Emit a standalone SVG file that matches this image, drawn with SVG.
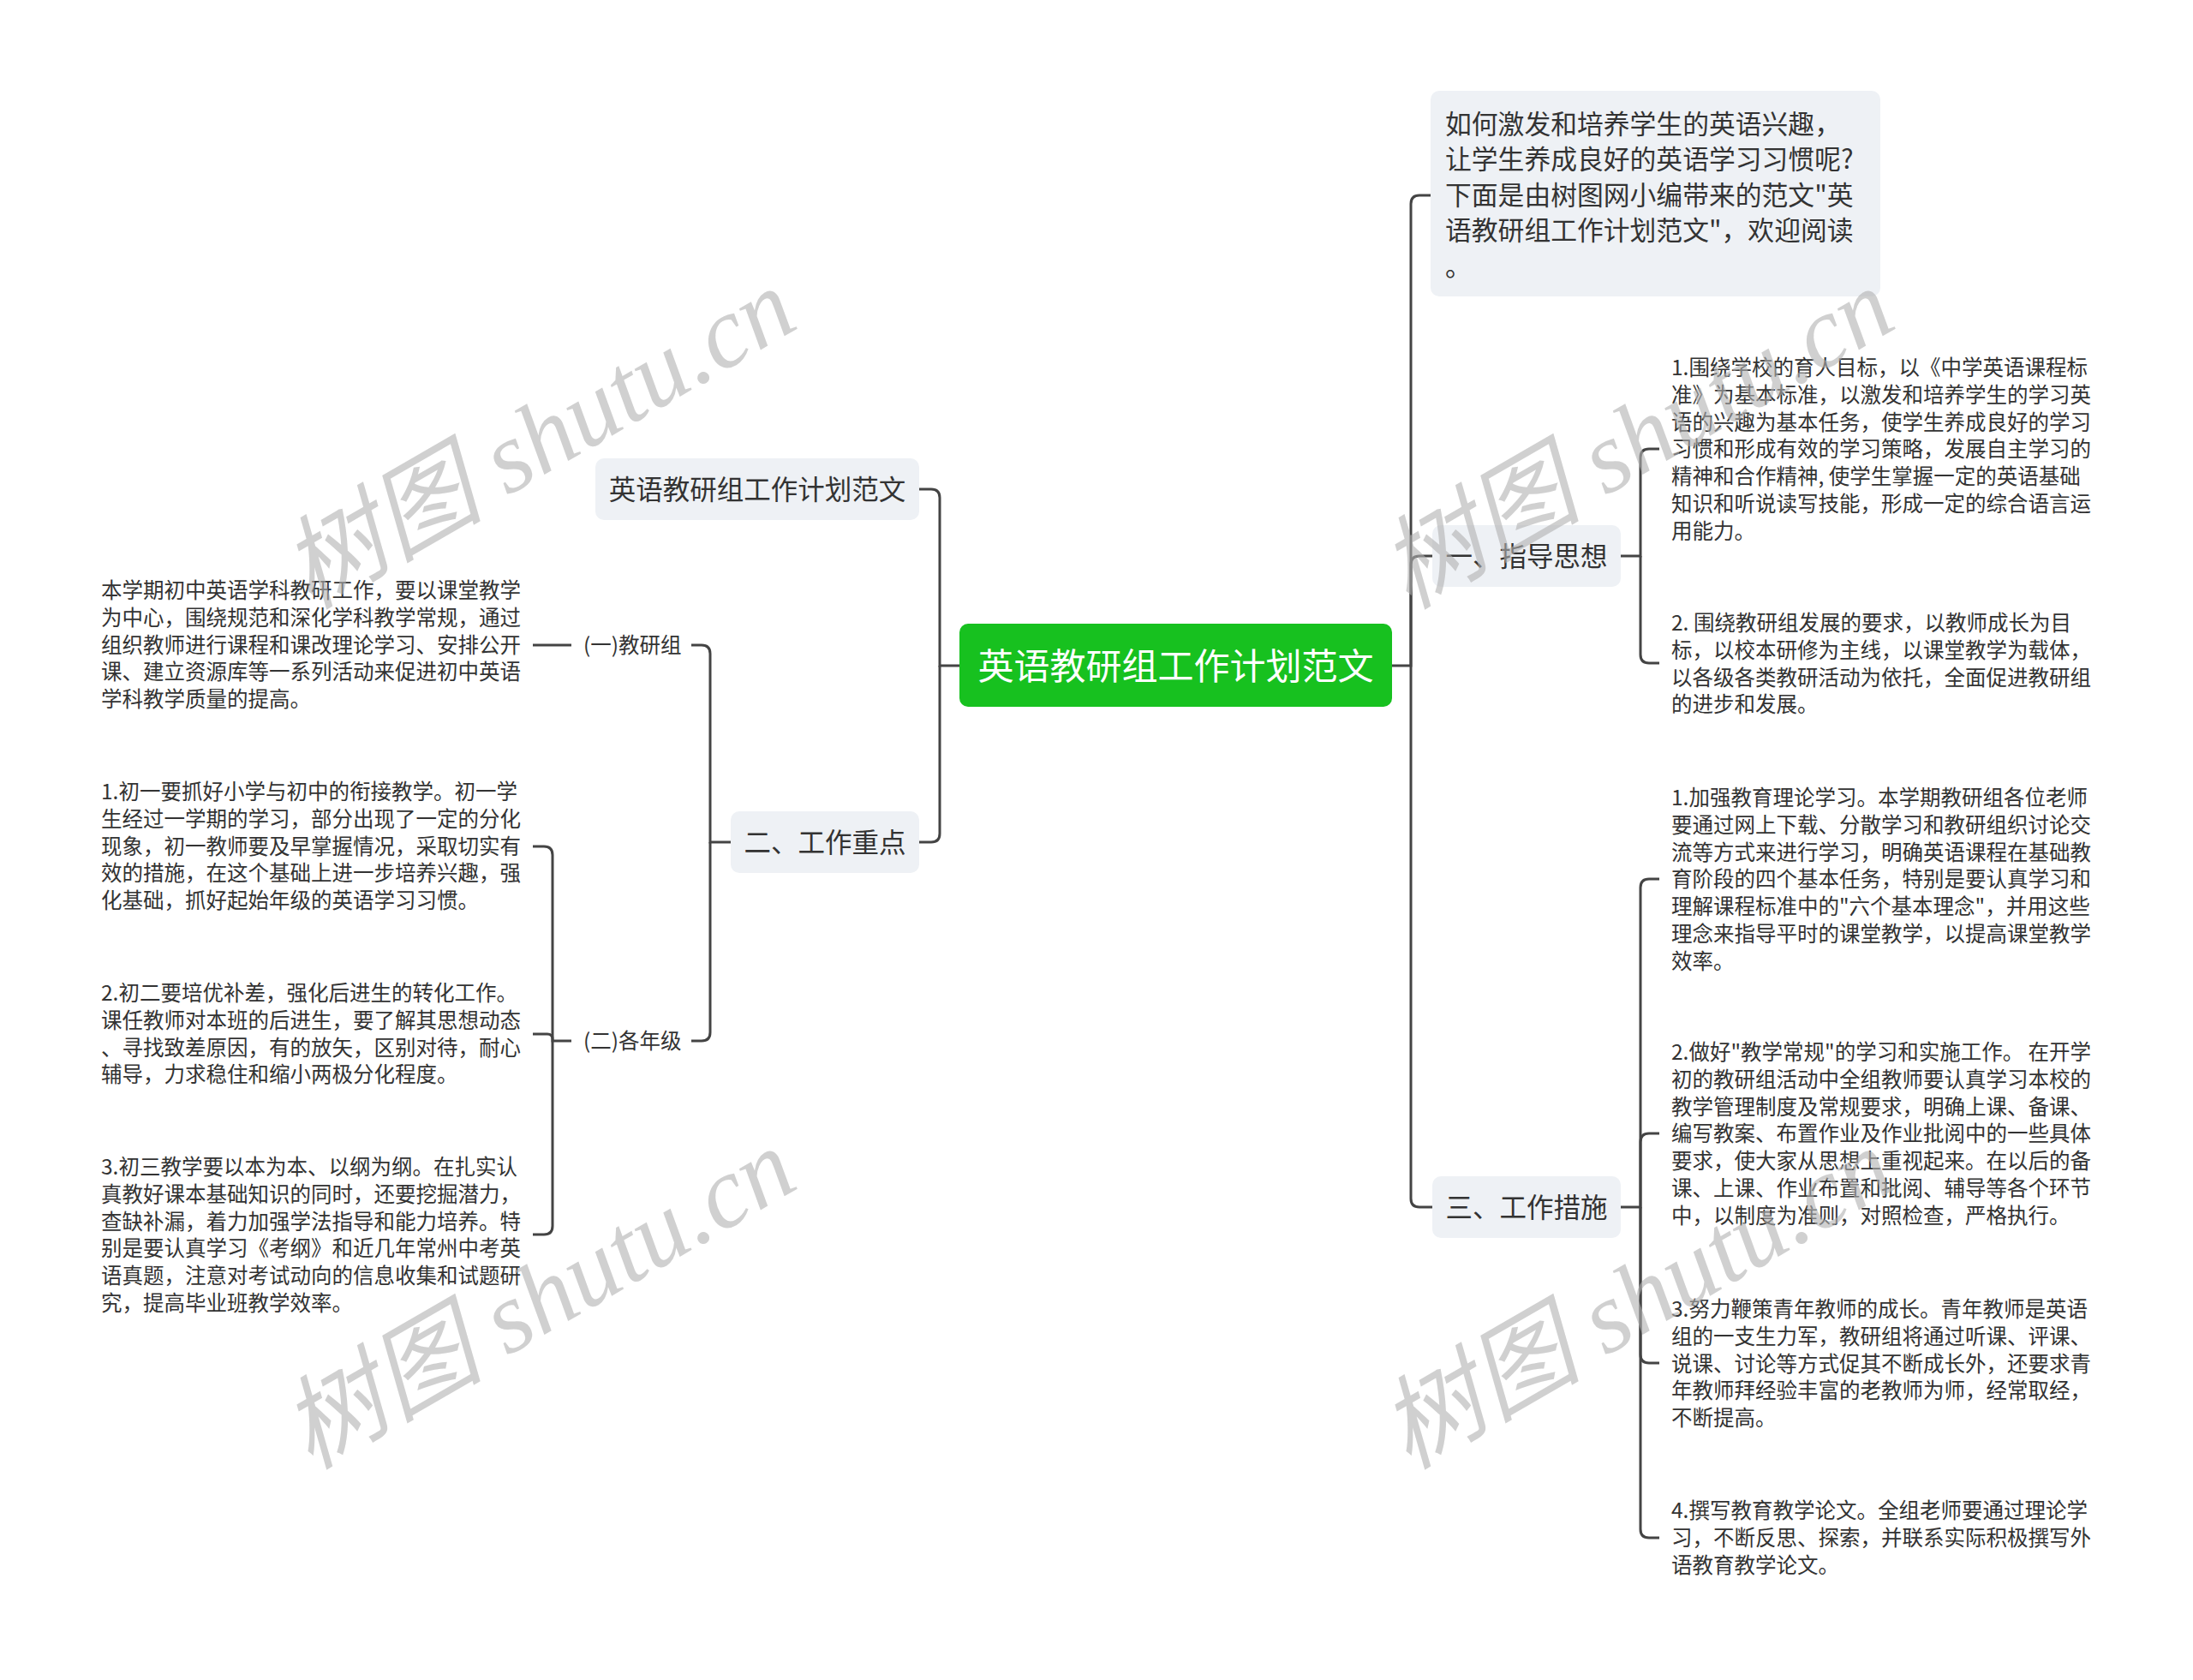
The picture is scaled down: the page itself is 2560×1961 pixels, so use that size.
<svg xmlns="http://www.w3.org/2000/svg" width="2560" height="1961" viewBox="0 0 2560 1961">
<style>
.t{font-family:"Noto Sans CJK SC","Noto Sans",sans-serif;fill:#333}
.s{font-size:24.5px}
.m{font-size:31.5px}
.box{fill:#eef1f5}
.c{fill:none;stroke:#444;stroke-width:3}
.wm{font-family:"Liberation Serif","Noto Sans CJK SC",serif;font-style:italic;font-size:118px;fill:#b0b0b0;fill-opacity:0.6}
</style>
<rect width="2560" height="1961" fill="#fff"/>
<g id="connectors">
<path class="c" d="M1120,777 H1097 V581 Q1097,571 1087,571 H1073"/>
<path class="c" d="M1097,777 V973 Q1097,983 1087,983 H1073"/>
<path class="c" d="M853,983 H829 V763 Q829,753 819,753 H807"/>
<path class="c" d="M829,983 V1205 Q829,1215 819,1215 H807"/>
<path class="c" d="M667,753 H622"/>
<path class="c" d="M667,1215 H645 V998 Q645,988 635,988 H622"/>
<path class="c" d="M645,1215 V1213 Q645,1207 639,1207 H622"/>
<path class="c" d="M645,1215 V1431 Q645,1441 635,1441 H622"/>
<path class="c" d="M1625,777 H1647 V238 Q1647,228 1657,228 H1670"/>
<path class="c" d="M1647,777 V659 Q1647,649 1657,649 H1672"/>
<path class="c" d="M1647,777 V1399 Q1647,1409 1657,1409 H1672"/>
<path class="c" d="M1892,649 H1915 V534 Q1915,524 1925,524 H1937"/>
<path class="c" d="M1915,649 V764 Q1915,774 1925,774 H1937"/>
<path class="c" d="M1892,1409 H1915 V1036 Q1915,1026 1925,1026 H1937"/>
<path class="c" d="M1915,1409 V1333 Q1915,1323 1925,1323 H1937"/>
<path class="c" d="M1915,1409 V1581 Q1915,1591 1925,1591 H1937"/>
<path class="c" d="M1915,1409 V1785 Q1915,1795 1925,1795 H1937"/>
</g>
<g id="root">
<rect x="1120" y="728" width="505" height="97" rx="10" fill="#17c11f"/>
<text x="1372.5" y="793" text-anchor="middle" class="t" style="font-size:42px;fill:#fff">英语教研组工作计划范文</text>
</g>
<g id="intro">
<rect x="1670" y="106" width="525" height="240" rx="10" class="box"/>
<text class="t" style="font-size:30.8px" x="1687" y="155.6"><tspan x="1687">如何激发和培养学生的英语兴趣，</tspan><tspan x="1687" dy="41.6">让学生养成良好的英语学习习惯呢?</tspan><tspan x="1687" dy="41.6">下面是由树图网小编带来的范文"英</tspan><tspan x="1687" dy="41.6">语教研组工作计划范文"，欢迎阅读</tspan><tspan x="1687" dy="41.6">。</tspan></text>
</g>
<g id="n-title-left">
<rect x="695" y="535" width="378" height="72" rx="10" class="box"/>
<text x="884" y="583" text-anchor="middle" class="t m">英语教研组工作计划范文</text>
</g>
<g id="n-zhongdian">
<rect x="853" y="947" width="220" height="72" rx="10" class="box"/>
<text x="963" y="995" text-anchor="middle" class="t m">二、工作重点</text>
</g>
<g id="n-jiaoyanzu">
<text x="681" y="762" class="t s">(一)教研组</text>
</g>
<g id="n-jiaoyanzu-text">
<text class="t s" x="118" y="698.3"><tspan x="118">本学期初中英语学科教研工作，要以课堂教学</tspan><tspan x="118" dy="31.7">为中心，围绕规范和深化学科教学常规，通过</tspan><tspan x="118" dy="31.7">组织教师进行课程和课改理论学习、安排公开</tspan><tspan x="118" dy="31.7">课、建立资源库等一系列活动来促进初中英语</tspan><tspan x="118" dy="31.7">学科教学质量的提高。</tspan></text>
</g>
<g id="n-ge-nianji">
<text x="681" y="1224" class="t s">(二)各年级</text>
</g>
<g id="n-nj1">
<text class="t s" x="118" y="933.3"><tspan x="118">1.初一要抓好小学与初中的衔接教学。初一学</tspan><tspan x="118" dy="31.7">生经过一学期的学习，部分出现了一定的分化</tspan><tspan x="118" dy="31.7">现象，初一教师要及早掌握情况，采取切实有</tspan><tspan x="118" dy="31.7">效的措施，在这个基础上进一步培养兴趣，强</tspan><tspan x="118" dy="31.7">化基础，抓好起始年级的英语学习习惯。</tspan></text>
</g>
<g id="n-nj2">
<text class="t s" x="118" y="1168.3"><tspan x="118">2.初二要培优补差，强化后进生的转化工作。</tspan><tspan x="118" dy="31.7">课任教师对本班的后进生，要了解其思想动态</tspan><tspan x="118" dy="31.7">、寻找致差原因，有的放矢，区别对待，耐心</tspan><tspan x="118" dy="31.7">辅导，力求稳住和缩小两极分化程度。</tspan></text>
</g>
<g id="n-nj3">
<text class="t s" x="118" y="1371.3"><tspan x="118">3.初三教学要以本为本、以纲为纲。在扎实认</tspan><tspan x="118" dy="31.7">真教好课本基础知识的同时，还要挖掘潜力，</tspan><tspan x="118" dy="31.7">查缺补漏，着力加强学法指导和能力培养。特</tspan><tspan x="118" dy="31.7">别是要认真学习《考纲》和近几年常州中考英</tspan><tspan x="118" dy="31.7">语真题，注意对考试动向的信息收集和试题研</tspan><tspan x="118" dy="31.7">究，提高毕业班教学效率。</tspan></text>
</g>
<g id="n-zhidao">
<rect x="1672" y="613" width="220" height="72" rx="10" class="box"/>
<text x="1782" y="661" text-anchor="middle" class="t m">一、指导思想</text>
</g>
<g id="n-zd1">
<text class="t s" x="1951" y="438.3"><tspan x="1951">1.围绕学校的育人目标，以《中学英语课程标</tspan><tspan x="1951" dy="31.7">准》为基本标准，以激发和培养学生的学习英</tspan><tspan x="1951" dy="31.7">语的兴趣为基本任务，使学生养成良好的学习</tspan><tspan x="1951" dy="31.7">习惯和形成有效的学习策略，发展自主学习的</tspan><tspan x="1951" dy="31.7">精神和合作精神, 使学生掌握一定的英语基础</tspan><tspan x="1951" dy="31.7">知识和听说读写技能，形成一定的综合语言运</tspan><tspan x="1951" dy="31.7">用能力。</tspan></text>
</g>
<g id="n-zd2">
<text class="t s" x="1951" y="736.3"><tspan x="1951">2. 围绕教研组发展的要求，以教师成长为目</tspan><tspan x="1951" dy="31.7">标，以校本研修为主线，以课堂教学为载体，</tspan><tspan x="1951" dy="31.7">以各级各类教研活动为依托，全面促进教研组</tspan><tspan x="1951" dy="31.7">的进步和发展。</tspan></text>
</g>
<g id="n-cuoshi">
<rect x="1672" y="1373" width="220" height="72" rx="10" class="box"/>
<text x="1782" y="1421" text-anchor="middle" class="t m">三、工作措施</text>
</g>
<g id="n-cs1">
<text class="t s" x="1951" y="940.3"><tspan x="1951">1.加强教育理论学习。本学期教研组各位老师</tspan><tspan x="1951" dy="31.7">要通过网上下载、分散学习和教研组织讨论交</tspan><tspan x="1951" dy="31.7">流等方式来进行学习，明确英语课程在基础教</tspan><tspan x="1951" dy="31.7">育阶段的四个基本任务，特别是要认真学习和</tspan><tspan x="1951" dy="31.7">理解课程标准中的"六个基本理念"，并用这些</tspan><tspan x="1951" dy="31.7">理念来指导平时的课堂教学，以提高课堂教学</tspan><tspan x="1951" dy="31.7">效率。</tspan></text>
</g>
<g id="n-cs2">
<text class="t s" x="1951" y="1237.3"><tspan x="1951">2.做好"教学常规"的学习和实施工作。 在开学</tspan><tspan x="1951" dy="31.7">初的教研组活动中全组教师要认真学习本校的</tspan><tspan x="1951" dy="31.7">教学管理制度及常规要求，明确上课、备课、</tspan><tspan x="1951" dy="31.7">编写教案、布置作业及作业批阅中的一些具体</tspan><tspan x="1951" dy="31.7">要求，使大家从思想上重视起来。在以后的备</tspan><tspan x="1951" dy="31.7">课、上课、作业布置和批阅、辅导等各个环节</tspan><tspan x="1951" dy="31.7">中，以制度为准则，对照检查，严格执行。</tspan></text>
</g>
<g id="n-cs3">
<text class="t s" x="1951" y="1537.3"><tspan x="1951">3.努力鞭策青年教师的成长。青年教师是英语</tspan><tspan x="1951" dy="31.7">组的一支生力军，教研组将通过听课、评课、</tspan><tspan x="1951" dy="31.7">说课、讨论等方式促其不断成长外，还要求青</tspan><tspan x="1951" dy="31.7">年教师拜经验丰富的老教师为师，经常取经，</tspan><tspan x="1951" dy="31.7">不断提高。</tspan></text>
</g>
<g id="n-cs4">
<text class="t s" x="1951" y="1772.3"><tspan x="1951">4.撰写教育教学论文。全组老师要通过理论学</tspan><tspan x="1951" dy="31.7">习，不断反思、探索，并联系实际积极撰写外</tspan><tspan x="1951" dy="31.7">语教育教学论文。</tspan></text>
</g>
<g id="watermarks">
<text class="wm" transform="translate(362,712) rotate(-30)">树图 shutu.cn</text>
<text class="wm" transform="translate(362,1716) rotate(-30)">树图 shutu.cn</text>
<text class="wm" transform="translate(1644,712) rotate(-30)">树图 shutu.cn</text>
<text class="wm" transform="translate(1644,1716) rotate(-30)">树图 shutu.cn</text>
</g>
</svg>
